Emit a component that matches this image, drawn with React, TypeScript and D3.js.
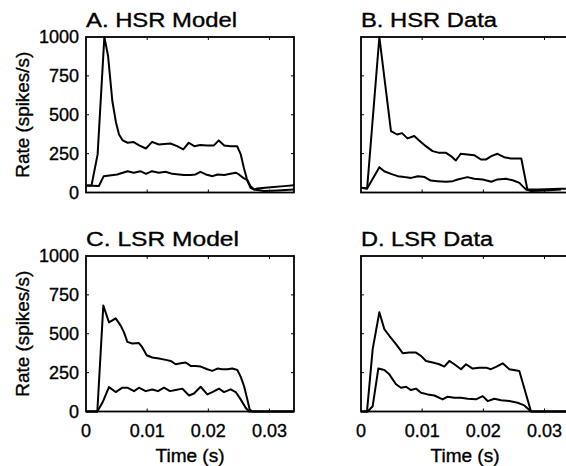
import React from 'react';
import * as d3 from 'd3';

// rate in spikes/s, time in s
const hsrModelUpperT = [0, 0.0009, 0.0019, 0.003, 0.0036, 0.0043, 0.0049, 0.0054, 0.006, 0.0068, 0.0078, 0.0087, 0.0098, 0.0108, 0.0119, 0.0128, 0.0138, 0.0149, 0.0159, 0.0168, 0.0177, 0.0187, 0.0198, 0.0209, 0.0217, 0.0226, 0.0236, 0.0247, 0.0253, 0.0258, 0.0264, 0.0269, 0.0275, 0.028, 0.0302, 0.0324, 0.034];
const hsrModelUpperV = [45, 45, 245, 1000, 880, 590, 450, 373, 335, 320, 324, 303, 283, 326, 309, 312, 315, 298, 277, 320, 298, 305, 303, 303, 335, 303, 298, 298, 245, 159, 73, 30, 19, 26, 34, 41, 47];
const hsrModelLowerT = [0, 0.0021, 0.0029, 0.0051, 0.0068, 0.0078, 0.0089, 0.0098, 0.0108, 0.0119, 0.013, 0.0141, 0.0152, 0.016, 0.0171, 0.0179, 0.0187, 0.0196, 0.0207, 0.0215, 0.0226, 0.0236, 0.0245, 0.025, 0.0257, 0.0264, 0.0269, 0.0275, 0.0291, 0.0313, 0.034];
const hsrModelLowerV = [45, 42, 105, 116, 137, 127, 137, 120, 137, 127, 133, 120, 116, 112, 112, 116, 133, 116, 105, 116, 112, 120, 127, 116, 94, 79, 40, 19, 9, 13, 19];

const hsrDataUpperT = [0, 0.001, 0.003, 0.0049, 0.0059, 0.0067, 0.0076, 0.0087, 0.0095, 0.0106, 0.0117, 0.0128, 0.0139, 0.0147, 0.0155, 0.0163, 0.0174, 0.0185, 0.0196, 0.0204, 0.0213, 0.0223, 0.0234, 0.0245, 0.0262, 0.0272, 0.0289, 0.0327, 0.034];
const hsrDataUpperV = [30, 26, 1000, 395, 373, 382, 348, 363, 335, 298, 266, 255, 255, 234, 206, 249, 245, 240, 212, 212, 234, 249, 227, 219, 219, 19, 19, 24, 24];
const hsrDataLowerT = [0, 0.001, 0.003, 0.0038, 0.0049, 0.006, 0.0071, 0.0082, 0.0093, 0.0104, 0.0114, 0.0125, 0.0139, 0.015, 0.0158, 0.0174, 0.0185, 0.0199, 0.0213, 0.0223, 0.0237, 0.0248, 0.0259, 0.0264, 0.027, 0.0278, 0.03, 0.0327];
const hsrDataLowerV = [30, 26, 163, 137, 120, 105, 99, 94, 105, 99, 77, 73, 69, 73, 84, 99, 88, 84, 69, 84, 88, 79, 62, 41, 19, 9, 13, 19];

const lsrModelUpperT = [0, 0.00185, 0.00283, 0.00376, 0.00485, 0.00567, 0.00621, 0.00676, 0.00757, 0.00866, 0.00921, 0.00992, 0.01084, 0.01193, 0.01302, 0.01384, 0.01466, 0.01548, 0.01629, 0.01711, 0.01793, 0.01874, 0.01983, 0.02065, 0.02147, 0.02229, 0.0231, 0.02392, 0.02474, 0.02528, 0.02583, 0.02637, 0.02675, 0.02719, 0.034];
const lsrModelUpperV = [0, 0, 681, 573, 599, 552, 509, 448, 437, 440, 412, 362, 347, 341, 332, 325, 304, 310, 315, 293, 293, 289, 272, 261, 276, 272, 272, 276, 267, 224, 164, 78, 13, 0, 0];
const lsrModelLowerT = [0, 0.00185, 0.00267, 0.00376, 0.00485, 0.00594, 0.00676, 0.00785, 0.00866, 0.00975, 0.01084, 0.01177, 0.01275, 0.01373, 0.01466, 0.01575, 0.01684, 0.01765, 0.01874, 0.01983, 0.02065, 0.02174, 0.02256, 0.02365, 0.02447, 0.02528, 0.0261, 0.02665, 0.034];
const lsrModelLowerV = [0, 0, 56, 157, 125, 153, 153, 131, 153, 131, 142, 131, 153, 131, 138, 147, 103, 116, 159, 110, 125, 147, 125, 142, 125, 78, 24, 0, 0];

const lsrDataUpperT = [0, 0.00098, 0.00191, 0.003, 0.00381, 0.00463, 0.00572, 0.00681, 0.0079, 0.00899, 0.00981, 0.01063, 0.01172, 0.0128, 0.01362, 0.01444, 0.01526, 0.01635, 0.01716, 0.01825, 0.01934, 0.02043, 0.02125, 0.02207, 0.02316, 0.02425, 0.02588, 0.02779, 0.034];
const lsrDataUpperV = [0, 0, 401, 638, 530, 487, 433, 375, 379, 379, 358, 325, 315, 304, 289, 325, 304, 272, 304, 276, 282, 282, 272, 287, 310, 272, 261, 0, 0];
const lsrDataLowerT = [0, 0.00109, 0.00191, 0.00283, 0.00381, 0.00463, 0.00572, 0.00654, 0.00736, 0.00817, 0.00899, 0.00981, 0.0109, 0.01199, 0.01335, 0.01417, 0.01526, 0.01635, 0.01744, 0.0188, 0.01989, 0.02071, 0.0218, 0.02289, 0.02425, 0.02561, 0.0267, 0.02779, 0.034];
const lsrDataLowerV = [0, 0, 34, 276, 267, 239, 175, 153, 159, 138, 147, 121, 110, 103, 78, 95, 88, 88, 82, 78, 99, 67, 82, 73, 67, 56, 39, 0, 0];

const yTicks = [0, 250, 500, 750, 1000];
const xTicks = [0, 0.01, 0.02, 0.03];
const xTickLabels = ['0', '0.01', '0.02', '0.03'];

const FONT = '"Liberation Sans", Arial, Helvetica, sans-serif';
const W = 208;
const H = 155.5;

// scanned figure: text reads a touch heavier than plain regular
const ink = { fill: '#000', stroke: '#000', strokeWidth: 0.35 };

interface PanelProps {
  left: number;
  top: number;
  title: string;
  titleLen: number;
  upper: [number[], number[]];
  lower: [number[], number[]];
  showY?: boolean;
  showX?: boolean;
}

const Panel: React.FC<PanelProps> = ({ left, top, title, titleLen, upper, lower, showY, showX }) => {
  const x = d3.scaleLinear().domain([0, 0.034]).range([0, W]);
  const y = d3.scaleLinear().domain([0, 1000]).range([H, 0]);

  const path = (ts: number[], vs: number[]) =>
    d3.line<number>().x(t => x(t)).y((_, i) => y(vs[i]))(ts) || '';

  return (
    <g transform={`translate(${left},${top})`}>
      <text x={0} y={-10} fontSize={20} fontFamily={FONT} {...ink}
        textLength={titleLen} lengthAdjust="spacingAndGlyphs">{title}</text>
      <path d={path(upper[0], upper[1])} fill="none" stroke="#000" strokeWidth={2} strokeLinejoin="round" />
      <path d={path(lower[0], lower[1])} fill="none" stroke="#000" strokeWidth={2} strokeLinejoin="round" />
      <rect x={0} y={0} width={W} height={H} fill="none" stroke="#000" strokeWidth={1.8} />
      {yTicks.slice(1, -1).map(v => (
        <g key={v}>
          <line x1={0} x2={3} y1={y(v)} y2={y(v)} stroke="#000" strokeWidth={1} />
          <line x1={W - 3} x2={W} y1={y(v)} y2={y(v)} stroke="#000" strokeWidth={1} />
        </g>
      ))}
      {xTicks.slice(1).map(t => (
        <g key={t}>
          <line x1={x(t)} x2={x(t)} y1={H} y2={H - 3} stroke="#000" strokeWidth={1} />
          <line x1={x(t)} x2={x(t)} y1={0} y2={3} stroke="#000" strokeWidth={1} />
        </g>
      ))}
      {showY && yTicks.map(v => (
        <text key={v} x={-7} y={y(v)} dy="0.36em" textAnchor="end" fontSize={18} fontFamily={FONT} {...ink}>{v}</text>
      ))}
      {showY && (
        <text transform={`translate(${22 - left},${H / 2}) rotate(-90)`} textAnchor="middle" dy="0.36em"
          fontSize={19} fontFamily={FONT} {...ink} textLength={126} lengthAdjust="spacingAndGlyphs">Rate (spikes/s)</text>
      )}
      {showX && xTicks.map((t, i) => (
        <text key={t} x={x(t)} y={H + 25} textAnchor="middle" fontSize={18} fontFamily={FONT} {...ink}>{xTickLabels[i]}</text>
      ))}
      {showX && (
        <text x={x(0.017)} y={H + 50} textAnchor="middle" fontSize={18} fontFamily={FONT} {...ink}
          textLength={69} lengthAdjust="spacingAndGlyphs">Time (s)</text>
      )}
    </g>
  );
};

export default function App() {
  return (
    <div style={{ position: 'absolute', left: 0, top: 0 }}>
      <svg width={566} height={466} style={{ display: 'block', background: '#fff' }}>
        <Panel left={86} top={37} title="A. HSR Model" titleLen={151}
          upper={[hsrModelUpperT, hsrModelUpperV]} lower={[hsrModelLowerT, hsrModelLowerV]} showY />
        <Panel left={361} top={37} title="B. HSR Data" titleLen={136}
          upper={[hsrDataUpperT, hsrDataUpperV]} lower={[hsrDataLowerT, hsrDataLowerV]} />
        <Panel left={86} top={256} title="C. LSR Model" titleLen={153}
          upper={[lsrModelUpperT, lsrModelUpperV]} lower={[lsrModelLowerT, lsrModelLowerV]} showY showX />
        <Panel left={361} top={256} title="D. LSR Data" titleLen={132}
          upper={[lsrDataUpperT, lsrDataUpperV]} lower={[lsrDataLowerT, lsrDataLowerV]} showX />
      </svg>
    </div>
  );
}
